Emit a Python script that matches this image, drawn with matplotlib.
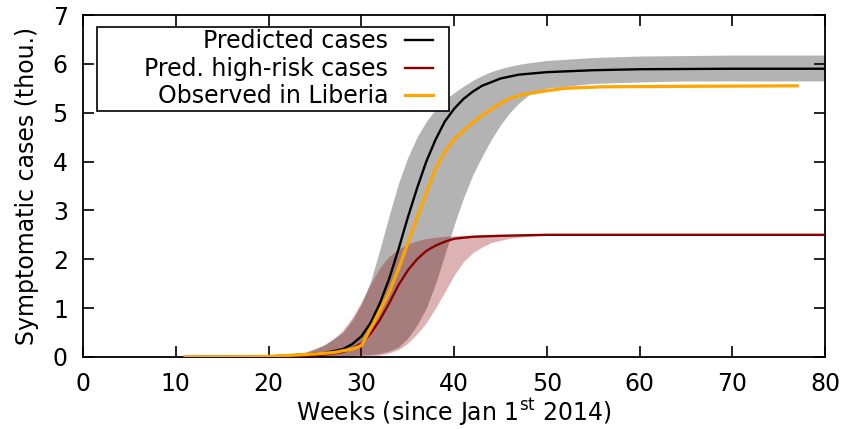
import numpy as np
import matplotlib
matplotlib.use('Agg')
import matplotlib.pyplot as plt
from matplotlib.patches import Rectangle

# predicted cases (black line)
pred_wk = [11, 20, 24, 26, 28, 29, 30, 31, 32, 33, 34, 35, 36, 37, 38, 39, 40, 41, 42, 43, 45, 47, 50, 55, 60, 70, 80]
pred = [0, 0.01, 0.05, 0.08, 0.16, 0.26, 0.42, 0.7, 1.1, 1.6, 2.2, 2.85, 3.45, 4.0, 4.45, 4.82, 5.08, 5.28, 5.43, 5.55, 5.7, 5.78, 5.83, 5.87, 5.89, 5.9, 5.9]

# grey band around predicted cases
band_wk = [11, 16, 20, 22, 24, 26, 28, 29, 30, 31, 32, 33, 34, 35, 36, 37, 38, 39, 40, 41, 42, 43, 44, 45, 46, 47, 48, 50, 55, 60, 65, 70, 80]
band_hi = [0, 0.005, 0.02, 0.05, 0.1, 0.25, 0.5, 0.75, 1.08, 1.55, 2.2, 2.9, 3.55, 4.08, 4.5, 4.82, 5.07, 5.26, 5.41, 5.54, 5.66, 5.76, 5.84, 5.9, 5.95, 5.99, 6.02, 6.07, 6.13, 6.16, 6.17, 6.18, 6.18]
band_lo = [0, 0, 0, 0, 0.005, 0.01, 0.02, 0.03, 0.04, 0.05, 0.07, 0.12, 0.2, 0.38, 0.65, 1.0, 1.5, 2.1, 2.7, 3.25, 3.72, 4.1, 4.45, 4.75, 5.0, 5.2, 5.36, 5.5, 5.6, 5.63, 5.65, 5.65, 5.65]

# predicted high-risk cases
hr_wk = [17, 22, 25, 27, 28, 29, 30, 31, 32, 33, 34, 35, 36, 37, 38, 39, 40, 42, 45, 50, 60, 80]
hr = [0, 0.01, 0.03, 0.07, 0.1, 0.17, 0.28, 0.48, 0.76, 1.1, 1.47, 1.77, 2.0, 2.17, 2.28, 2.36, 2.42, 2.46, 2.48, 2.5, 2.5, 2.5]

hrband_wk = [17, 20, 22, 24, 25, 26, 27, 28, 29, 30, 31, 32, 33, 34, 35, 36, 37, 38, 39, 40, 41, 42, 43, 44, 46, 48, 50, 55, 60, 80]
hrband_hi = [0, 0.01, 0.03, 0.09, 0.15, 0.24, 0.36, 0.55, 0.8, 1.13, 1.5, 1.83, 2.06, 2.21, 2.31, 2.38, 2.42, 2.45, 2.47, 2.48, 2.49, 2.49, 2.5, 2.5, 2.5, 2.5, 2.5, 2.5, 2.5, 2.5]
hrband_lo = [0, 0, 0, 0, 0, 0, 0, 0, 0.005, 0.01, 0.02, 0.04, 0.08, 0.15, 0.28, 0.47, 0.7, 1.0, 1.33, 1.67, 1.95, 2.13, 2.25, 2.34, 2.43, 2.47, 2.49, 2.5, 2.5, 2.5]

# observed in Liberia
obs_wk = [11, 20, 23, 25, 27, 29, 30, 31, 32, 33, 34, 35, 36, 37, 38, 39, 40, 41, 42, 43, 44, 45, 46, 47, 48, 50, 52, 56, 65, 77]
obs = [0, 0.01, 0.04, 0.06, 0.09, 0.16, 0.23, 0.58, 0.95, 1.32, 1.8, 2.32, 2.85, 3.35, 3.85, 4.2, 4.45, 4.63, 4.79, 4.94, 5.07, 5.19, 5.29, 5.35, 5.39, 5.45, 5.5, 5.53, 5.54, 5.55]

plt.rcParams['font.family'] = 'DejaVu Sans'
fig = plt.figure(figsize=(8.48, 4.29), dpi=100)
ax = fig.add_axes([0.098, 0.168, 0.875, 0.797])

ax.fill_between(band_wk, band_lo, band_hi, color='#b3b3b3', lw=0, zorder=1)
ax.fill_between(hrband_wk, hrband_lo, hrband_hi, color='#8b0000', alpha=0.3, lw=0, zorder=2)
ax.plot(pred_wk, pred, color='black', lw=1.7, zorder=3, label='Predicted cases')
ax.plot(hr_wk, hr, color='#8b0000', lw=1.7, zorder=4, label='Pred. high-risk cases')
ax.plot(obs_wk, obs, color='#ffa500', lw=2.3, zorder=5, label='Observed in Liberia')

ax.set_xlim(0, 80)
ax.set_ylim(0, 7)
ax.set_xticks(range(0, 81, 10))
ax.set_yticks(range(0, 8))
ax.tick_params(direction='in', length=8, width=1.2, top=True, right=True, labelsize=17)
ax.tick_params(axis='x', pad=11)
ax.tick_params(axis='y', pad=11)
for s in ax.spines.values():
    s.set_linewidth(1.3)

ax.set_xlabel('Weeks (since Jan 1$^{\\mathrm{st}}$ 2014)', fontsize=17, labelpad=0)
ax.set_ylabel('Symptomatic cases (thou.)', fontsize=17, labelpad=10)

# legend box is wider than its content, so draw the frame separately
ax.add_patch(Rectangle((0.019, 0.719), 0.474, 0.246, transform=ax.transAxes,
                       facecolor='white', edgecolor='black', lw=1.2, zorder=6))
leg = ax.legend(loc='upper right', bbox_to_anchor=(0.4764, 0.968), borderaxespad=0,
                markerfirst=False, fontsize=17, labelspacing=0.14, handlelength=1.2,
                handletextpad=0.7, borderpad=0.15, frameon=False, alignment='right')
leg.set_zorder(7)
for t in leg.get_texts():
    t.set_ha('right')

fig.savefig('out.png', dpi=100)
